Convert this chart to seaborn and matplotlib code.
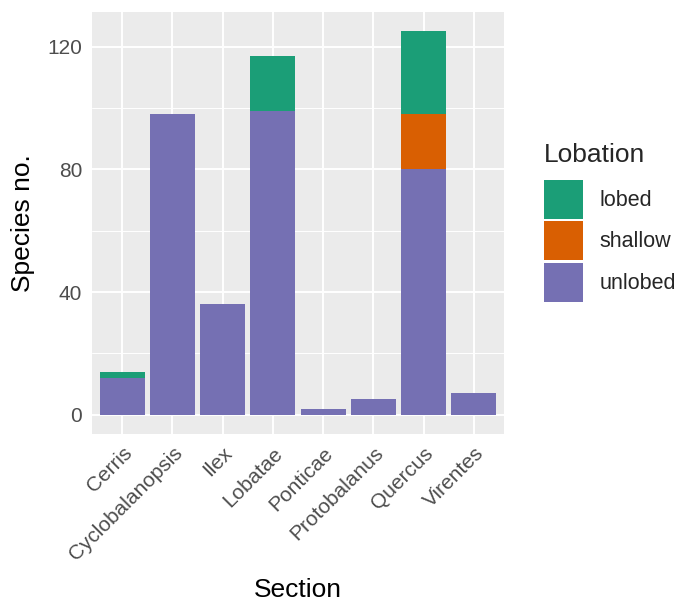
import matplotlib
matplotlib.use("Agg")
import matplotlib.pyplot as plt
from matplotlib.patches import Patch
import pandas as pd
import seaborn as sns

sections = ["Cerris", "Cyclobalanopsis", "Ilex", "Lobatae",
            "Ponticae", "Protobalanus", "Quercus", "Virentes"]
unlobed = [12, 98, 36, 99, 2, 5, 80, 7]
shallow = [0, 0, 0, 0, 0, 0, 18, 0]
lobed = [2, 0, 0, 18, 0, 0, 27, 0]

levels = ["lobed", "shallow", "unlobed"]
colors = {"lobed": "#1B9E77", "shallow": "#D95F02", "unlobed": "#7570B3"}

df = pd.DataFrame({
    "Section": sections * 3,
    "Lobation": ["unlobed"] * 8 + ["shallow"] * 8 + ["lobed"] * 8,
    "n": unlobed + shallow + lobed,
})
df["Section"] = pd.Categorical(df["Section"], categories=sections)

sns.set_style("darkgrid")
plt.rcParams["font.family"] = ["Liberation Sans", "DejaVu Sans"]

fig = plt.figure(figsize=(6.77, 6.04), dpi=100)
ax = fig.add_axes([92 / 677, 1 - 434 / 604, (504 - 92) / 677, (434 - 12) / 604])

sns.histplot(data=df, x="Section", weights="n", hue="Lobation",
             hue_order=levels, palette=colors, multiple="stack",
             discrete=True, shrink=0.9, alpha=1, linewidth=0,
             legend=False, ax=ax)

ax.set_facecolor("#EBEBEB")
ax.set_xlim(-0.6, 7.6)
ax.set_ylim(-6.25, 131.25)
ax.set_yticks([0, 40, 80, 120])
ax.set_yticks([20, 60, 100], minor=True)
ax.set_xticks(range(len(sections)))
ax.set_xticklabels(sections, rotation=45, ha="right", rotation_mode="anchor")
ax.grid(which="major", color="white", linewidth=1.4)
ax.grid(which="minor", axis="y", color="white", linewidth=0.7)
ax.set_axisbelow(True)
for s in ax.spines.values():
    s.set_visible(False)
ax.tick_params(axis="both", which="major", length=4, width=1.1,
               color="#333333", labelcolor="#4D4D4D", labelsize=15, pad=3)
ax.tick_params(axis="y", which="minor", length=0)
ax.set_xlabel("Section", fontsize=19, color="black", labelpad=10)
ax.set_ylabel("Species no.", fontsize=19, color="black", labelpad=9)

handles = [Patch(facecolor=colors[l], edgecolor="none", label=l) for l in levels]
leg = fig.legend(handles=handles, title="Lobation", loc="upper left",
                 bbox_to_anchor=(540 / 677, 1 - 139 / 604), frameon=False,
                 fontsize=15.5, title_fontsize=19, handlelength=1.8,
                 handleheight=2.41, labelspacing=0.12, handletextpad=0.75,
                 borderaxespad=0, borderpad=0.2)
leg._legend_box.align = "left"
leg._legend_box.sep = 9

fig.savefig("out.png", dpi=100)
